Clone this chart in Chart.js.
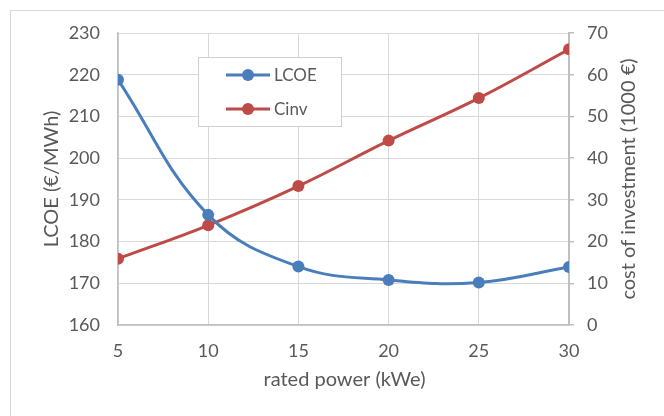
<!DOCTYPE html>
<html>
<head>
<meta charset="utf-8">
<script src="https://cdn.jsdelivr.net/npm/chart.js@4.4.0/dist/chart.umd.min.js"></script>
<style>
    html, body { margin: 0; padding: 0; background: #fff; overflow: hidden; }
    #contenedor { position: relative; width: 664px; height: 416px; overflow: hidden; }
    #marco { position: absolute; left: 10px; top: 10px; width: 720px; height: 480px; border: 1px solid #d9d9d9; }
    #grafica { position: absolute; left: 0; top: 0; }
</style>
</head>
<body>
<div id="contenedor">
    <div id="marco"></div>
    <canvas id="grafica" width="664" height="416"></canvas>
</div>
<script>
// datos
const potencias = [5, 10, 15, 20, 25, 30];
const lcoe = [218.8, 186.4, 174.0, 170.8, 170.2, 173.9];
const cinv = [15.9, 23.9, 33.3, 44.2, 54.4, 66.1];

const ticksX = [5, 10, 15, 20, 25, 30];
const ticksLcoe = [160, 170, 180, 190, 200, 210, 220, 230];
const ticksCinv = [0, 10, 20, 30, 40, 50, 60, 70];

const etiquetas = ['LCOE', 'Cinv'];
const tituloX = 'rated power (kWe)';
const tituloY = 'LCOE (€/MWh)';
const tituloY1 = 'cost of investment (1000 €)';

const AZUL = '#4a7ebb';
const ROJO = '#be4b48';
const TEXTO = '#595959';
const FUENTE = 'Lato';

document.addEventListener('DOMContentLoaded', () => {
    const grafica = document.querySelector('#grafica');

    const puntos = (valores) => potencias.map((p, i) => ({ x: p, y: valores[i] }));

    const titulosYLeyenda = {
        id: 'titulosYLeyenda',
        afterDraw(chart) {
            const { ctx, chartArea } = chart;
            const centroY = (chartArea.top + chartArea.bottom) / 2;
            ctx.save();
            ctx.fillStyle = TEXTO;
            ctx.font = `20px ${FUENTE}`;
            ctx.textAlign = 'center';
            ctx.textBaseline = 'alphabetic';

            ctx.fillText(tituloX, (chartArea.left + chartArea.right) / 2 + 1, 386);

            ctx.save();
            ctx.translate(58, centroY);
            ctx.rotate(-Math.PI / 2);
            ctx.fillText(tituloY, 0, 0);
            ctx.restore();

            ctx.save();
            ctx.translate(635, centroY);
            ctx.rotate(-Math.PI / 2);
            ctx.fillText(tituloY1, 0, 0);
            ctx.restore();

            // leyenda dentro del área
            ctx.fillStyle = '#fff';
            ctx.fillRect(198.5, 57.5, 143, 69);
            ctx.strokeStyle = '#d0d0d0';
            ctx.lineWidth = 1;
            ctx.strokeRect(198.5, 57.5, 143, 69);

            ctx.font = `17px ${FUENTE}`;
            ctx.textBaseline = 'middle';
            const filas = [75, 109];
            chart.data.datasets.forEach((ds, i) => {
                const y = filas[i];
                ctx.strokeStyle = ds.borderColor;
                ctx.lineWidth = 3;
                ctx.beginPath();
                ctx.moveTo(226, y);
                ctx.lineTo(270, y);
                ctx.stroke();
                ctx.fillStyle = ds.backgroundColor;
                ctx.beginPath();
                ctx.arc(248, y, 6, 0, Math.PI * 2);
                ctx.fill();
                ctx.fillStyle = TEXTO;
                ctx.textAlign = 'left';
                ctx.fillText(ds.label, 274, y + 1);
            });
            ctx.restore();
        }
    };

    new Chart(grafica, {
        type: 'line',
        data: {
            datasets: [
                {
                    label: etiquetas[0],
                    data: puntos(lcoe),
                    yAxisID: 'y',
                    borderColor: AZUL,
                    backgroundColor: AZUL,
                    borderWidth: 3,
                    pointRadius: 6,
                    pointBorderWidth: 0,
                    tension: 0.4
                },
                {
                    label: etiquetas[1],
                    data: puntos(cinv),
                    yAxisID: 'y1',
                    borderColor: ROJO,
                    backgroundColor: ROJO,
                    borderWidth: 3,
                    pointRadius: 6,
                    pointBorderWidth: 0,
                    tension: 0.4
                }
            ]
        },
        options: {
            responsive: false,
            animation: false,
            layout: { padding: { top: 33, left: 0, right: 0, bottom: 0 } },
            scales: {
                x: {
                    type: 'linear',
                    min: ticksX[0],
                    max: ticksX[ticksX.length - 1],
                    afterBuildTicks: (eje) => { eje.ticks = ticksX.map(v => ({ value: v })); },
                    afterFit: (eje) => { eje.height = 91; },
                    ticks: { color: TEXTO, font: { family: FUENTE, size: 18 }, padding: 15 },
                    grid: { color: '#d9d9d9', drawTicks: false },
                    border: { color: '#bfbfbf', width: 1.5 }
                },
                y: {
                    position: 'left',
                    min: ticksLcoe[0],
                    max: ticksLcoe[ticksLcoe.length - 1],
                    afterBuildTicks: (eje) => { eje.ticks = ticksLcoe.map(v => ({ value: v })); },
                    afterFit: (eje) => { eje.width = 118; },
                    ticks: { color: TEXTO, font: { family: FUENTE, size: 18 }, padding: 18 },
                    grid: { color: '#d9d9d9', drawTicks: false },
                    border: { color: '#bfbfbf', width: 1.5 }
                },
                y1: {
                    position: 'right',
                    min: ticksCinv[0],
                    max: ticksCinv[ticksCinv.length - 1],
                    afterBuildTicks: (eje) => { eje.ticks = ticksCinv.map(v => ({ value: v })); },
                    afterFit: (eje) => { eje.width = 95; },
                    ticks: { color: TEXTO, font: { family: FUENTE, size: 18 }, padding: 13 },
                    grid: { drawOnChartArea: false, color: '#bfbfbf', tickLength: 5, lineWidth: 1.5 },
                    border: { color: '#bfbfbf', width: 2 }
                }
            },
            plugins: {
                legend: { display: false },
                tooltip: { enabled: false }
            }
        },
        plugins: [titulosYLeyenda]
    });
});
</script>
</body>
</html>
